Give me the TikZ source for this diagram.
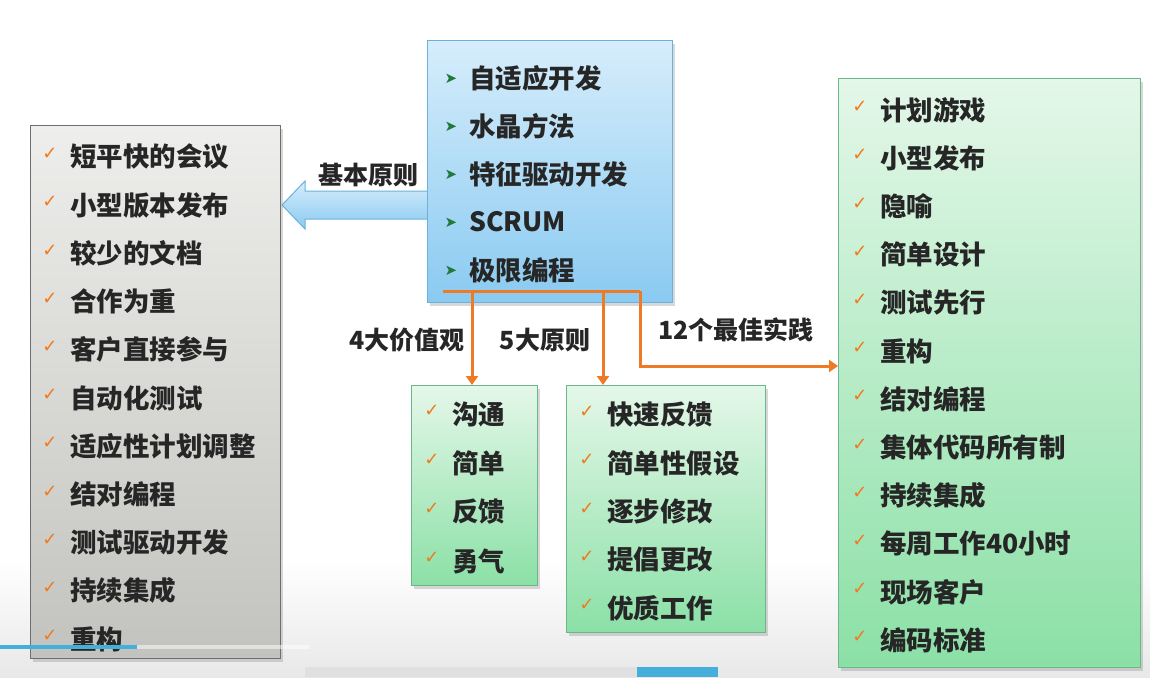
\documentclass[tikz,border=0pt]{standalone}
\usepackage{fontspec}
\newfontfamily\cjk{Noto Sans CJK SC}
\newfontfamily\dejavu{DejaVu Sans}
\usetikzlibrary{shadows,arrows.meta}
\definecolor{txt}{HTML}{262626}
\definecolor{chk}{HTML}{F07A1E}
\definecolor{org}{HTML}{EE7A26}
\definecolor{bul}{HTML}{1F7A3A}
\definecolor{greyTop}{HTML}{EEEEEC}
\definecolor{greyBot}{HTML}{C2C2BE}
\definecolor{greyLine}{HTML}{6E6E6E}
\definecolor{blueTop}{HTML}{D6EDFB}
\definecolor{blueBot}{HTML}{8ACAF1}
\definecolor{blueLine}{HTML}{6AB2DC}
\definecolor{greenTop}{HTML}{E4F7E9}
\definecolor{greenBot}{HTML}{8BE0A6}
\definecolor{greenLine}{HTML}{6DB58A}
\definecolor{uiblue}{HTML}{45AEDA}
\tikzset{
  box/.style={draw, line width=1.2pt, anchor=north west, inner sep=0pt,
    drop shadow={opacity=0.3, shadow xshift=2pt, shadow yshift=-3pt}},
  greybox/.style={box, draw=greyLine, top color=greyTop, bottom color=greyBot},
  bluebox/.style={box, draw=blueLine, top color=blueTop, bottom color=blueBot},
  greenbox/.style={box, draw=greenLine, top color=greenTop, bottom color=greenBot},
  item/.style={anchor=west, inner sep=0pt, text=txt, font=\cjk\bfseries\fontsize{26.5}{30}\selectfont},
  lbl/.style={inner sep=0pt, text=txt, font=\cjk\bfseries\fontsize{25}{30}\selectfont},
  tick/.style={inner sep=0pt, text=chk, font=\dejavu\fontsize{18}{20}\selectfont},
  bullet/.style={inner sep=0pt, text=bul, font=\dejavu\fontsize{15}{18}\selectfont},
  oline/.style={draw=org, line width=3pt},
  oarrow/.style={oline, -{Triangle[length=9pt,width=12pt]}},
}
\begin{document}
\begin{tikzpicture}[x=1pt,y=-1pt]
\useasboundingbox (0,0) rectangle (1150,677);
\fill[white] (0,0) rectangle (1150,560);
\shade[top color=white, bottom color=black!9] (0,560) rectangle (1150,677);

% big arrow (behind boxes)
\shade[top color=blueTop, bottom color=blueBot, draw=blueLine, line width=1pt]
  (282,205) -- (305,181) -- (305,191) -- (430,191) -- (430,219) -- (305,219) -- (305,229) -- cycle;

% boxes
\node[greybox, minimum width=250pt, minimum height=533pt] (L) at (30,125) {};
\node[bluebox, minimum width=245pt, minimum height=262pt] (B) at (427,40) {};
\node[greenbox, minimum width=126pt, minimum height=200pt] (G1) at (411,385) {};
\node[greenbox, minimum width=199pt, minimum height=247pt] (G2) at (566,385) {};
\node[greenbox, minimum width=302pt, minimum height=589pt] (R) at (838,78) {};

% left items
\foreach \t [count=\i from 0] in {短平快的会议,小型版本发布,较少的文档,合作为重,客户直接参与,自动化测试,适应性计划调整,结对编程,测试驱动开发,持续集成,重构}{
  \node[tick] (Lc\i) at (50,{157+48.2*\i-3}) {✓};
  \node[item] (L\i) at (70,{157+48.2*\i}) {\t};
}
% blue items
\foreach \t [count=\i from 0] in {自适应开发,水晶方法,特征驱动开发,SCRUM,极限编程}{
  \node[bullet] (Bb\i) at (451,{78+48*\i+1}) {➤};
  \node[item] (B\i) at (469,{78+48*\i}) {\t};
}
% green 1
\foreach \t [count=\i from 0] in {沟通,简单,反馈,勇气}{
  \node[tick] (Ac\i) at (432,{414+49*\i-3}) {✓};
  \node[item] (A\i) at (452,{414+49*\i}) {\t};
}
% green 2
\foreach \t [count=\i from 0] in {快速反馈,简单性假设,逐步修改,提倡更改,优质工作}{
  \node[tick] (Pc\i) at (587,{415+48.3*\i-3}) {✓};
  \node[item] (P\i) at (607,{415+48.3*\i}) {\t};
}
% right items
\foreach \t [count=\i from 0] in {计划游戏,小型发布,隐喻,简单设计,测试先行,重构,结对编程,集体代码所有制,持续集成,每周工作40小时,现场客户,编码标准}{
  \node[tick] (Rc\i) at (860,{110+48.2*\i-3}) {✓};
  \node[item] (R\i) at (880,{110+48.2*\i}) {\t};
}

% labels
\node[lbl] (lb0) at (368,175) {基本原则};
\node[lbl] (lb1) at (407,340) {4大价值观};
\node[lbl] (lb2) at (545,340) {5大原则};
\node[lbl] (lb3) at (736,330) {12个最佳实践};

% orange connectors
\coordinate (o0) at (443,291);
\coordinate (o1) at (472,291);
\coordinate (o2) at (603,291);
\coordinate (o3) at (640,291);
\coordinate (o4) at (640,366);
\draw[oline] (o0) -- (o3);
\draw[oarrow] (o1) -- (o1 |- G1.north);
\draw[oarrow] (o2) -- (o2 |- G2.north);
\draw[oarrow] (o3) -- (o4) -- (o4 -| R.west);

% player overlay
\fill[black!12] (305,667) rectangle (637,677);
\fill[uiblue] (637,667) rectangle (718,677);
\fill[white, opacity=0.5] (0,645) rectangle (310,649);
\fill[uiblue] (0,645) rectangle (137,649);
\end{tikzpicture}
\end{document}
